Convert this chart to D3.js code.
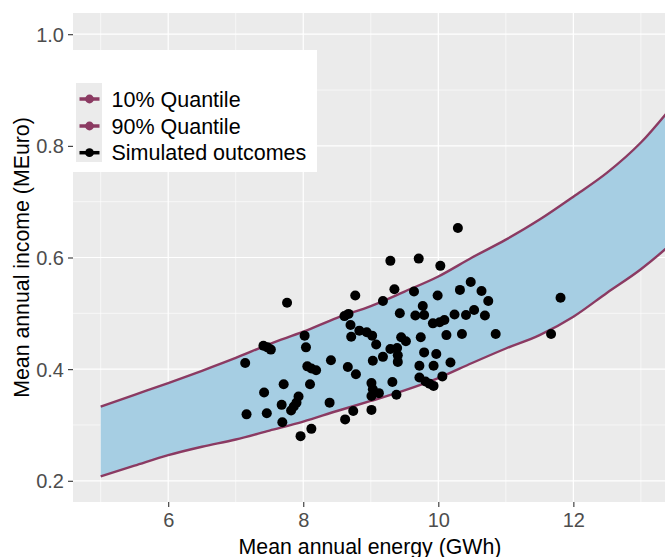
<!DOCTYPE html>
<html>
<head>
<meta charset="utf-8">
<script src="https://cdn.jsdelivr.net/npm/d3@7"></script>
<style>
  body { margin: 0; background: #fff; }
  svg { display: block; }
  text { font-family: "Liberation Sans", Arial, Helvetica, sans-serif; }
</style>
</head>
<body>
<svg id="chart" width="665" height="557"></svg>
<script>
// Quantile band of mean annual income against mean annual energy
const energyGrid = [5.0, 5.5, 6.0, 6.5, 7.0, 7.5, 8.0, 8.5, 9.0, 9.5, 10.0, 10.5, 11.0, 11.5, 12.0, 12.5, 13.0, 13.5, 14.0];
const q10 = [0.208, 0.227, 0.246, 0.261, 0.274, 0.290, 0.306, 0.325, 0.343, 0.362, 0.384, 0.411, 0.437, 0.461, 0.494, 0.537, 0.579, 0.630, 0.690];
const q90 = [0.333, 0.354, 0.375, 0.397, 0.420, 0.445, 0.467, 0.492, 0.513, 0.539, 0.566, 0.600, 0.632, 0.668, 0.709, 0.752, 0.806, 0.876, 0.950];

// Simulated outcomes
const simEnergy = [7.14, 7.16, 7.41, 7.47, 7.52, 7.42, 7.46, 7.69, 7.68, 7.71, 7.76, 7.93, 7.90, 7.86, 7.82,
  8.02, 8.04, 8.06, 8.12, 8.19, 8.10, 8.12, 7.96, 8.39, 8.41, 8.61, 8.67, 8.70, 8.71, 8.77,
  8.83, 8.94, 9.02, 9.08, 8.62, 8.66, 8.78, 8.74, 9.01, 9.01, 9.03, 9.12, 9.01, 9.03, 9.18,
  9.18, 9.29, 9.35, 9.29, 9.39, 9.40, 9.40, 9.32, 9.38, 9.43, 9.45, 9.52, 9.64, 9.66, 9.71,
  9.74, 9.77, 9.79, 9.79, 9.72, 9.72, 9.81, 9.87, 9.93, 9.92, 10.02, 10.09, 9.97, 9.93, 9.99,
  10.03, 10.06, 10.12, 10.18, 10.24, 10.29, 10.32, 10.35, 10.41, 10.48, 10.53, 10.64, 10.69, 10.74, 10.85,
  11.67, 11.81];
const simIncome = [0.411, 0.319, 0.442, 0.439, 0.435, 0.358, 0.321, 0.305, 0.336, 0.373, 0.519, 0.351, 0.340, 0.333, 0.326,
  0.460, 0.439, 0.405, 0.401, 0.398, 0.373, 0.293, 0.280, 0.340, 0.416, 0.495, 0.499, 0.479, 0.458, 0.532,
  0.469, 0.466, 0.460, 0.444, 0.310, 0.404, 0.391, 0.325, 0.327, 0.375, 0.364, 0.357, 0.352, 0.415, 0.422,
  0.522, 0.594, 0.543, 0.436, 0.438, 0.425, 0.413, 0.377, 0.354, 0.500, 0.457, 0.450, 0.539, 0.496, 0.598,
  0.457, 0.513, 0.497, 0.430, 0.406, 0.385, 0.378, 0.374, 0.370, 0.482, 0.484, 0.488, 0.427, 0.406, 0.532,
  0.585, 0.387, 0.461, 0.412, 0.498, 0.653, 0.542, 0.463, 0.497, 0.556, 0.506, 0.540, 0.496, 0.522, 0.463,
  0.463, 0.528];

const xTicks = [6, 8, 10, 12];
const xMinor = [5, 7, 9, 11, 13];
const yTicks = [0.2, 0.4, 0.6, 0.8, 1.0];
const yMinor = [0.3, 0.5, 0.7, 0.9];
const legendLabels = ["10% Quantile", "90% Quantile", "Simulated outcomes"];
const legendColors = ["#8B3A62", "#8B3A62", "#000000"];

const lineColor = "#8B3A62";
const bandFill = "#A6CEE3";
const panelBg = "#EBEBEB";

const svg = d3.select("#chart");
const panel = { left: 73, top: 13, right: 676, bottom: 502 };

const x = d3.scaleLinear().domain([4.59, 13.52]).range([panel.left, panel.right]);
const y = d3.scaleLinear().domain([0.162, 1.038]).range([panel.bottom, panel.top]);

svg.append("defs").append("clipPath").attr("id", "panel-clip")
  .append("rect")
  .attr("x", panel.left).attr("y", panel.top)
  .attr("width", panel.right - panel.left).attr("height", panel.bottom - panel.top);

// panel background
svg.append("rect")
  .attr("x", panel.left).attr("y", panel.top)
  .attr("width", panel.right - panel.left).attr("height", panel.bottom - panel.top)
  .attr("fill", panelBg);

const grid = svg.append("g").attr("clip-path", "url(#panel-clip)");
grid.selectAll("line.xminor").data(xMinor).join("line")
  .attr("x1", d => x(d)).attr("x2", d => x(d))
  .attr("y1", panel.top).attr("y2", panel.bottom)
  .attr("stroke", "#fff").attr("stroke-width", 0.6);
grid.selectAll("line.yminor").data(yMinor).join("line")
  .attr("y1", d => y(d)).attr("y2", d => y(d))
  .attr("x1", panel.left).attr("x2", panel.right)
  .attr("stroke", "#fff").attr("stroke-width", 0.6);
grid.selectAll("line.xmajor").data(xTicks).join("line")
  .attr("x1", d => x(d)).attr("x2", d => x(d))
  .attr("y1", panel.top).attr("y2", panel.bottom)
  .attr("stroke", "#fff").attr("stroke-width", 1.2);
grid.selectAll("line.ymajor").data(yTicks).join("line")
  .attr("y1", d => y(d)).attr("y2", d => y(d))
  .attr("x1", panel.left).attr("x2", panel.right)
  .attr("stroke", "#fff").attr("stroke-width", 1.2);

// quantile band
const band = energyGrid.map((e, i) => ({ e, lo: q10[i], hi: q90[i] }));
const plot = svg.append("g").attr("clip-path", "url(#panel-clip)");

plot.append("path").datum(band)
  .attr("fill", bandFill)
  .attr("d", d3.area().curve(d3.curveMonotoneX)
    .x(d => x(d.e)).y0(d => y(d.lo)).y1(d => y(d.hi)));

["lo", "hi"].forEach(key => {
  plot.append("path").datum(band)
    .attr("fill", "none")
    .attr("stroke", lineColor)
    .attr("stroke-width", 2.4)
    .attr("d", d3.line().curve(d3.curveMonotoneX)
      .x(d => x(d.e)).y(d => y(d[key])));
});

// simulated outcomes
plot.selectAll("circle.sim").data(simEnergy.map((e, i) => [e, simIncome[i]])).join("circle")
  .attr("cx", d => x(d[0])).attr("cy", d => y(d[1]))
  .attr("r", 5).attr("fill", "#000");

// axes
const xAxis = svg.append("g")
  .attr("transform", `translate(0,${panel.bottom})`)
  .call(d3.axisBottom(x).tickValues(xTicks).tickFormat(d3.format("d")).tickSize(5).tickPadding(6));
const yAxis = svg.append("g")
  .attr("transform", `translate(${panel.left},0)`)
  .call(d3.axisLeft(y).tickValues(yTicks).tickFormat(d3.format(".1f")).tickSize(5).tickPadding(4));

[xAxis, yAxis].forEach(ax => {
  ax.select(".domain").remove();
  ax.selectAll(".tick line").attr("stroke", "#333").attr("stroke-width", 1.1);
  ax.selectAll(".tick text")
    .attr("fill", "#4D4D4D")
    .attr("font-size", 20)
    .attr("font-family", "'Liberation Sans', Arial, sans-serif");
});
xAxis.selectAll(".tick text").attr("dy", "0.71em");
yAxis.selectAll(".tick text").attr("dy", "0.35em");

// axis titles
svg.append("text")
  .attr("x", 370).attr("y", 553.5)
  .attr("text-anchor", "middle")
  .attr("font-size", 21.3)
  .attr("fill", "#000")
  .text("Mean annual energy (GWh)");

svg.append("text")
  .attr("transform", `translate(28.5,${(panel.top + panel.bottom) / 2}) rotate(-90)`)
  .attr("text-anchor", "middle")
  .attr("font-size", 21.3)
  .attr("fill", "#000")
  .text("Mean annual income (MEuro)");

// legend
const legend = svg.append("g");
legend.append("rect")
  .attr("x", 73).attr("y", 50).attr("width", 244).attr("height", 122)
  .attr("fill", "#fff");
legend.append("rect")
  .attr("x", 76).attr("y", 83).attr("width", 26).attr("height", 79)
  .attr("fill", panelBg);

const rowY = [99, 126, 152.7];
const rows = legend.selectAll("g.row").data(legendLabels).join("g")
  .attr("transform", (d, i) => `translate(0,${rowY[i]})`);
rows.append("line")
  .attr("x1", 79.5).attr("x2", 99.5).attr("y1", 0).attr("y2", 0)
  .attr("stroke", (d, i) => legendColors[i]).attr("stroke-width", 3.5);
rows.append("circle")
  .attr("cx", 89.5).attr("cy", 0).attr("r", 4.4)
  .attr("fill", (d, i) => legendColors[i]);
rows.append("text")
  .attr("x", 111.5).attr("y", 7.6)
  .attr("font-size", 21.5)
  .attr("fill", "#000")
  .text(d => d);
</script>
</body>
</html>
